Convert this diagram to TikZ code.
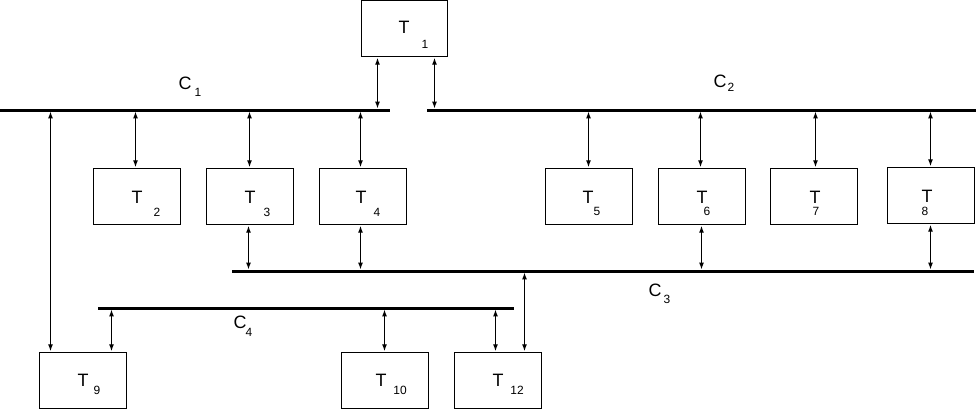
\documentclass[tikz,border=0pt]{standalone}
\usepackage{fontspec}
\setmainfont{Liberation Sans}
\usetikzlibrary{arrows.meta,calc}
\begin{document}
\begin{tikzpicture}[x=1bp,y=-1bp,
  box/.style={draw,line width=1.2bp,minimum width=87bp,minimum height=56bp,inner sep=0pt},
  bus/.style={line width=3bp},
  conn/.style={line width=1.2bp,{Latex[length=7bp,width=5bp]}-{Latex[length=7bp,width=5bp]},shorten >=1.4bp,shorten <=0.6bp},
  bigT/.style={font=\fontsize{18}{18}\selectfont,inner sep=0pt},
  sub/.style={font=\fontsize{12}{12}\selectfont,inner sep=0pt}]
\useasboundingbox (0,0) rectangle (976,410);
% boxes
\node[box,minimum width=86bp] (T1) at (404.5,28.5) {};
\node[box] (T2) at (137,196.5) {};
\node[box] (T3) at (250,196.5) {};
\node[box] (T4) at (363,196.5) {};
\node[box] (T5) at (589,196.5) {};
\node[box] (T6) at (702,196.5) {};
\node[box] (T7) at (814,196.5) {};
\node[box] (T8) at (931,195.5) {};
\node[box] (T9) at (83,380.5) {};
\node[box] (T10) at (385,380.5) {};
\node[box] (T12) at (498,380.5) {};
% labels
\node[bigT] (l1) at (404,27) {T};   \node[sub] (s1) at (425,44) {1};
\node[bigT] (l2) at (137,197) {T};  \node[sub] (s2) at (157,212) {2};
\node[bigT] (l3) at (250,197) {T};  \node[sub] (s3) at (267,212) {3};
\node[bigT] (l4) at (361,197) {T};  \node[sub] (s4) at (377,212) {4};
\node[bigT] (l5) at (588,197) {T};  \node[sub] (s5) at (597,211) {5};
\node[bigT] (l6) at (702,197) {T};  \node[sub] (s6) at (707,211) {6};
\node[bigT] (l7) at (815,197) {T};  \node[sub] (s7) at (816,211) {7};
\node[bigT] (l8) at (927,196) {T};  \node[sub] (s8) at (925,211) {8};
\node[bigT] (l9) at (83,380) {T};   \node[sub] (s9) at (97,390) {9};
\node[bigT] (l10) at (381,380) {T}; \node[sub] (s10) at (400,390) {10};
\node[bigT] (l12) at (498,380) {T}; \node[sub] (s12) at (517,390) {12};
% bus labels
\node[bigT] (C1) at (185,83) {C};  \node[sub] (cs1) at (198,92) {1};
\node[bigT] (C2) at (720,81) {C};  \node[sub] (cs2) at (731,87) {2};
\node[bigT] (C3) at (655,290) {C}; \node[sub] (cs3) at (667,299) {3};
\node[bigT] (C4) at (240,322) {C}; \node[sub] (cs4) at (249,332) {4};
% buses
\coordinate (c1l) at (0,110);   \coordinate (c1r) at (390,110);
\coordinate (c2l) at (427,110); \coordinate (c2r) at (976,110);
\coordinate (c3l) at (232,271); \coordinate (c3r) at (974,271);
\coordinate (c4l) at (98,308);  \coordinate (c4r) at (514,308);
\draw[bus] (c1l) -- (c1r);
\draw[bus] (c2l) -- (c2r);
\draw[bus] (c3l) -- (c3r);
\draw[bus] (c4l) -- (c4r);
% connectors to C1 / C2
\draw[conn] ([xshift=-27bp]T1.south) -- ([xshift=-27bp]T1.south |- c1l);
\draw[conn] ([xshift=30bp]T1.south) -- ([xshift=30bp]T1.south |- c2l);
\draw[conn] ([xshift=-1.5bp]T2.north) -- ([xshift=-1.5bp]T2.north |- c1l);
\draw[conn] ([xshift=-0.5bp]T3.north) -- ([xshift=-0.5bp]T3.north |- c1l);
\draw[conn] ([xshift=-2.5bp]T4.north) -- ([xshift=-2.5bp]T4.north |- c1l);
\draw[conn] ([xshift=-0.5bp]T5.north) -- ([xshift=-0.5bp]T5.north |- c2l);
\draw[conn] ([xshift=-1.5bp]T6.north) -- ([xshift=-1.5bp]T6.north |- c2l);
\draw[conn] ([xshift=1.5bp]T7.north) -- ([xshift=1.5bp]T7.north |- c2l);
\draw[conn] ([xshift=-0.5bp]T8.north) -- ([xshift=-0.5bp]T8.north |- c2l);
\draw[conn] ([xshift=-32.5bp]T9.north) -- ([xshift=-32.5bp]T9.north |- c1l);
% connectors to C3
\draw[conn] ([xshift=-1.5bp]T3.south) -- ([xshift=-1.5bp]T3.south |- c3l);
\draw[conn] ([xshift=-2.5bp]T4.south) -- ([xshift=-2.5bp]T4.south |- c3l);
\draw[conn] ([xshift=-0.5bp]T6.south) -- ([xshift=-0.5bp]T6.south |- c3l);
\draw[conn] ([xshift=-0.5bp]T8.south) -- ([xshift=-0.5bp]T8.south |- c3l);
\draw[conn] ([xshift=26.5bp]T12.north) -- ([xshift=26.5bp]T12.north |- c3l);
% connectors to C4
\draw[conn] ([xshift=28.5bp]T9.north) -- ([xshift=28.5bp]T9.north |- c4l);
\draw[conn] ([xshift=-0.5bp]T10.north) -- ([xshift=-0.5bp]T10.north |- c4l);
\draw[conn] ([xshift=-2.5bp]T12.north) -- ([xshift=-2.5bp]T12.north |- c4l);
\end{tikzpicture}
\end{document}
